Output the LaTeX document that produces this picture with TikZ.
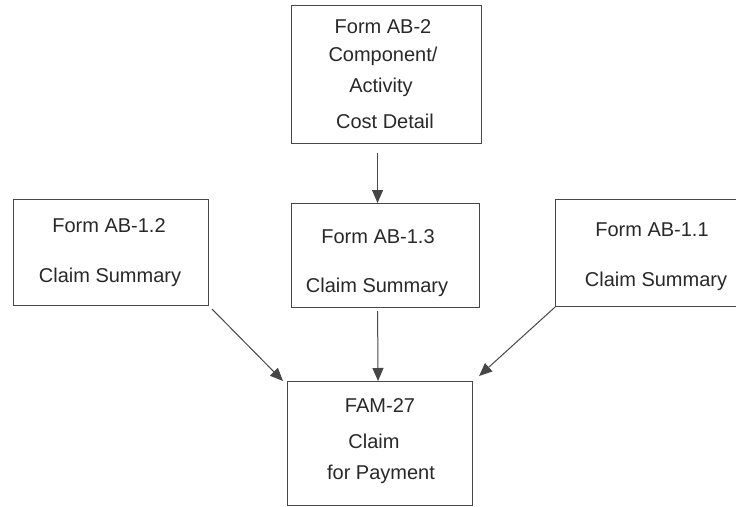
\documentclass[tikz,border=0pt]{standalone}
\usepackage{fontspec}
\setmainfont{Liberation Sans}
\usetikzlibrary{arrows.meta,calc}
\definecolor{ink}{RGB}{40,40,40}
\definecolor{linegray}{RGB}{70,70,70}
\begin{document}
\begin{tikzpicture}[x=1pt,y=-1pt,
  formbox/.style={draw=linegray,line width=1.1pt,inner sep=0pt,anchor=north west},
  lbl/.style={inner sep=0pt,text=ink,font=\fontsize{20}{24}\selectfont},
  flow/.style={draw=linegray,line width=1pt,-{Triangle[length=13pt,width=11pt]},color=linegray}]
\useasboundingbox (0,0) rectangle (736,506);
% boxes
\node[formbox,minimum width=190pt,minimum height=138pt] (b2) at (291,5) {};
\node[formbox,minimum width=195pt,minimum height=106pt] (b12) at (13,199) {};
\node[formbox,minimum width=188pt,minimum height=104pt] (b13) at (291,203) {};
\node[formbox,minimum width=190pt,minimum height=107pt] (b11) at (555,199) {};
\node[formbox,minimum width=185pt,minimum height=124pt] (fam) at (287,381) {};
% texts
\node[lbl] (t2a) at (383,27) {Form AB-2};
\node[lbl] (t2b) at (383,56) {Component/};
\node[lbl] (t2c) at (381,87) {Activity};
\node[lbl] (t2d) at (385,121) {Cost Detail};
\node[lbl] (t12a) at (109,226) {Form AB-1.2};
\node[lbl] (t12b) at (110,277) {Claim Summary};
\node[lbl] (t13a) at (378,237) {Form AB-1.3};
\node[lbl] (t13b) at (377,287) {Claim Summary};
\node[lbl] (t11a) at (652,230) {Form AB-1.1};
\node[lbl] (t11b) at (656,281) {Claim Summary};
\node[lbl] (tfa) at (380,406) {FAM-27};
\node[lbl] (tfb) at (374,441) {Claim};
\node[lbl] (tfc) at (381,474) {for Payment};
% connectors
\draw[flow,shorten <=9pt] ([xshift=-9pt]b2.south) -- ([xshift=-8pt]b13.north);
\draw[flow,shorten <=3pt] ([xshift=-8pt]b13.south) -- ([xshift=-2pt]fam.north);
\draw[flow,shorten <=4pt] (b12.south east) -- ([xshift=-4pt]fam.north west);
\draw[flow] (b11.south west) -- ([xshift=6pt,yshift=5pt]fam.north east);
\end{tikzpicture}
\end{document}
